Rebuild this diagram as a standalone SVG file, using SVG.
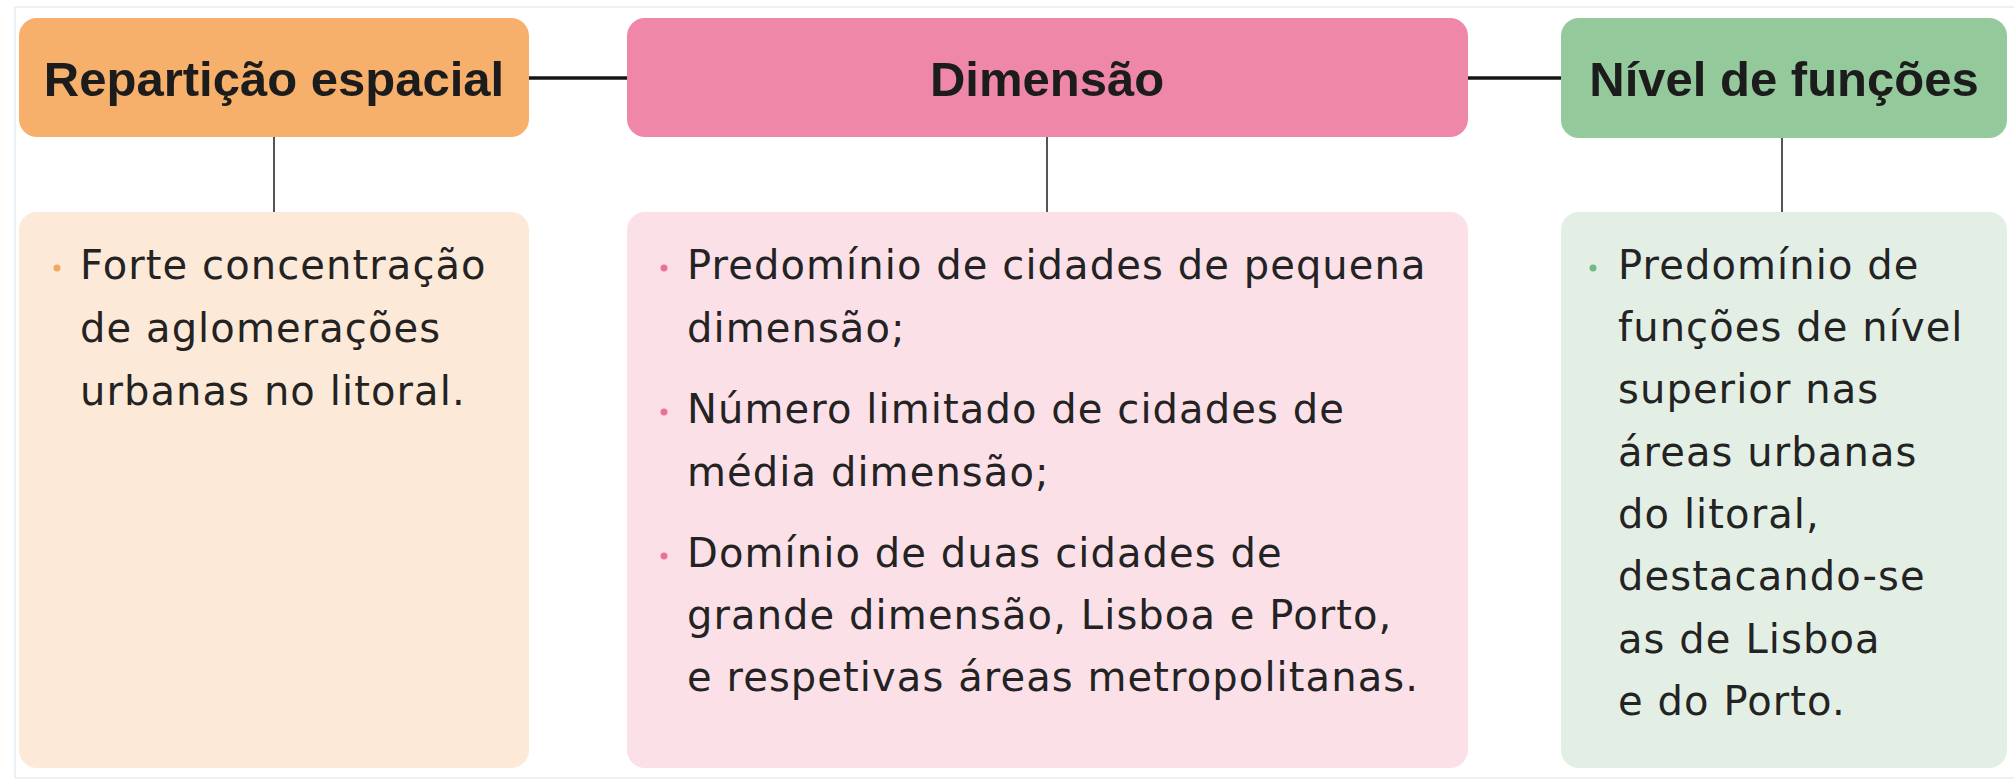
<svg xmlns="http://www.w3.org/2000/svg" width="2014" height="780" viewBox="0 0 2014 780">
  <style>
    .hdr { font-family: "Liberation Sans", Arial, sans-serif; font-weight: bold; font-size: 49px; fill: #1c1c1c; text-anchor: middle; }
    .body { font-family: "DejaVu Sans", "Liberation Sans", sans-serif; font-size: 40px; letter-spacing: 1.1px; fill: #232323; }
    .hline { stroke: #151515; stroke-width: 3.5; }
    .vline { stroke: #555555; stroke-width: 2; }
  </style>
  <rect x="0" y="0" width="2014" height="780" fill="#ffffff"/>
  <path d="M15 778 V7 H2014 M15 778 H2014" fill="none" stroke="#e3edf5" stroke-width="1.5"/>

  <g id="connectors">
    <line class="hline" x1="529" y1="78" x2="627" y2="78"/>
    <line class="hline" x1="1468" y1="78" x2="1561" y2="78"/>
    <line class="vline" x1="274" y1="137" x2="274" y2="212"/>
    <line class="vline" x1="1047" y1="137" x2="1047" y2="212"/>
    <line class="vline" x1="1782" y1="138" x2="1782" y2="212"/>
  </g>

  <g id="node-reparticao">
    <rect x="19" y="18" width="510" height="119" rx="18" fill="#f6b06b"/>
    <text class="hdr" x="274" y="96">Repartição espacial</text>
  </g>
  <g id="node-reparticao-body">
    <rect x="19" y="212" width="510" height="556" rx="18" fill="#fde9d7"/>
    <circle cx="57" cy="268" r="3.5" fill="#f0a85a"/>
    <text class="body" x="80" y="279">Forte concentração</text>
    <text class="body" x="80" y="342">de aglomerações</text>
    <text class="body" x="80" y="405">urbanas no litoral.</text>
  </g>

  <g id="node-dimensao">
    <rect x="627" y="18" width="841" height="119" rx="18" fill="#ef87a9"/>
    <text class="hdr" x="1047" y="96">Dimensão</text>
  </g>
  <g id="node-dimensao-body">
    <rect x="627" y="212" width="841" height="556" rx="18" fill="#fbe0e8"/>
    <circle cx="664" cy="268" r="3.5" fill="#e8729a"/>
    <text class="body" x="687" y="279">Predomínio de cidades de pequena</text>
    <text class="body" x="687" y="342">dimensão;</text>
    <circle cx="664" cy="412" r="3.5" fill="#e8729a"/>
    <text class="body" x="687" y="423">Número limitado de cidades de</text>
    <text class="body" x="687" y="486">média dimensão;</text>
    <circle cx="664" cy="556" r="3.5" fill="#e8729a"/>
    <text class="body" x="687" y="567">Domínio de duas cidades de</text>
    <text class="body" x="687" y="629">grande dimensão, Lisboa e Porto,</text>
    <text class="body" x="687" y="691">e respetivas áreas metropolitanas.</text>
  </g>

  <g id="node-funcoes">
    <rect x="1561" y="18" width="446" height="120" rx="18" fill="#94c99c"/>
    <text class="hdr" x="1784" y="96">Nível de funções</text>
  </g>
  <g id="node-funcoes-body">
    <rect x="1561" y="212" width="446" height="556" rx="18" fill="#e3efe4"/>
    <circle cx="1593" cy="268" r="3.5" fill="#70bb82"/>
    <text class="body" x="1618" y="279">Predomínio de</text>
    <text class="body" x="1618" y="341">funções de nível</text>
    <text class="body" x="1618" y="403">superior nas</text>
    <text class="body" x="1618" y="466">áreas urbanas</text>
    <text class="body" x="1618" y="528">do litoral,</text>
    <text class="body" x="1618" y="590">destacando-se</text>
    <text class="body" x="1618" y="653">as de Lisboa</text>
    <text class="body" x="1618" y="715">e do Porto.</text>
  </g>
</svg>
